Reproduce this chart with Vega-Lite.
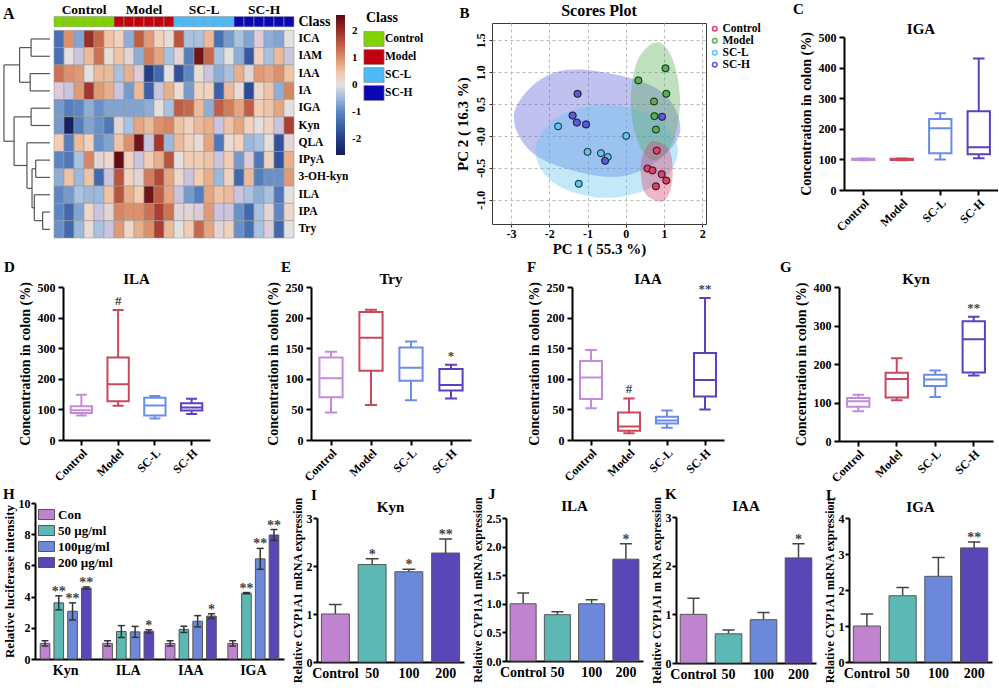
{
  "$schema": "https://vega.github.io/schema/vega-lite/v6.json",
  "background": "white",
  "padding": {"left": 2, "top": 1, "right": 0, "bottom": 0},
  "config": {
    "font": "Liberation Serif",
    "view": {"stroke": null},
    "axis": {"labelFont": "Liberation Serif", "labelFontWeight": "bold", "labelFontSize": 12, "labelColor": "black", "titleFont": "Liberation Serif", "titleFontWeight": "bold", "titleFontSize": 14, "titleColor": "black", "domainColor": "black", "domainWidth": 2, "tickColor": "black", "tickWidth": 2, "tickSize": 5, "grid": false, "labelPadding": 3, "titlePadding": 5},
    "title": {"font": "Liberation Serif", "fontWeight": "bold", "fontSize": 15, "color": "black", "offset": 4},
    "legend": {"labelFont": "Liberation Serif", "labelFontWeight": "bold", "labelColor": "black", "titleFont": "Liberation Serif", "titleFontWeight": "bold", "titleColor": "black"}
  },
  "datasets": {
    "heat": [
      {"r": "ICA", "c01": -1.3, "c02": 1.0, "c03": -0.7, "c04": 2.0, "c05": 1.4, "c06": 0.5, "c07": 0.3, "c08": -0.6, "c09": 1.5, "c10": 0.9, "c11": 0.3, "c12": 0.1, "c13": 1.6, "c14": -0.4, "c15": -0.4, "c16": 0.6, "c17": -1.3, "c18": -0.8, "c19": -0.4, "c20": -0.7, "c21": -0.2, "c22": -0.6, "c23": -0.7, "c24": 0.0},
      {"r": "IAM", "c01": -1.3, "c02": 0.0, "c03": -0.3, "c04": 0.6, "c05": 1.3, "c06": 0.1, "c07": 0.5, "c08": -0.1, "c09": -0.6, "c10": 1.2, "c11": 0.8, "c12": -0.4, "c13": -0.1, "c14": -1.1, "c15": 2.4, "c16": 1.4, "c17": -0.4, "c18": 0.0, "c19": -0.6, "c20": -1.6, "c21": 0.3, "c22": -0.4, "c23": 0.6, "c24": -0.3},
      {"r": "IAA", "c01": 1.3, "c02": 1.0, "c03": 0.9, "c04": 0.0, "c05": 0.6, "c06": 0.6, "c07": -0.4, "c08": 0.7, "c09": -0.2, "c10": -2.0, "c11": -1.4, "c12": 0.0, "c13": -1.7, "c14": -1.0, "c15": 0.1, "c16": -0.3, "c17": -0.6, "c18": -0.4, "c19": 0.7, "c20": -0.1, "c21": 0.9, "c22": 0.8, "c23": 1.0, "c24": 0.5},
      {"r": "IA", "c01": -0.2, "c02": -0.3, "c03": 0.9, "c04": 1.9, "c05": 0.9, "c06": 0.7, "c07": -0.3, "c08": -0.8, "c09": 0.6, "c10": -1.5, "c11": -0.3, "c12": 0.7, "c13": 0.1, "c14": -0.8, "c15": 0.3, "c16": 0.3, "c17": -1.5, "c18": 0.6, "c19": 0.1, "c20": -1.8, "c21": 0.2, "c22": 0.5, "c23": -0.6, "c24": 1.1},
      {"r": "IGA", "c01": -0.8, "c02": -1.1, "c03": -1.0, "c04": -0.6, "c05": -0.9, "c06": -0.7, "c07": -0.7, "c08": -0.7, "c09": -0.7, "c10": -0.6, "c11": 0.05, "c12": -0.4, "c13": 1.5, "c14": 1.4, "c15": 0.6, "c16": -0.6, "c17": 1.5, "c18": 1.2, "c19": 0.8, "c20": 1.5, "c21": 0.4, "c22": 0.5, "c23": 0.8, "c24": 0.0},
      {"r": "Kyn", "c01": -0.8, "c02": -2.5, "c03": -1.1, "c04": -0.7, "c05": -0.9, "c06": -1.2, "c07": -0.1, "c08": -0.4, "c09": 0.8, "c10": 0.6, "c11": 1.0, "c12": 1.1, "c13": 0.5, "c14": 0.3, "c15": 0.6, "c16": 0.7, "c17": -0.3, "c18": 0.5, "c19": 0.8, "c20": 0.3, "c21": 0.05, "c22": 0.3, "c23": -0.3, "c24": 1.8},
      {"r": "QLA", "c01": 0.4, "c02": -1.1, "c03": 0.6, "c04": 0.3, "c05": -0.9, "c06": -0.7, "c07": 0.5, "c08": 1.0, "c09": 2.4, "c10": -0.3, "c11": 1.9, "c12": -0.5, "c13": 0.6, "c14": 0.3, "c15": 0.1, "c16": 0.8, "c17": -1.2, "c18": 0.1, "c19": 0.3, "c20": -0.5, "c21": -0.4, "c22": 0.05, "c23": -1.7, "c24": -0.1},
      {"r": "IPyA", "c01": -1.0, "c02": -1.2, "c03": -0.4, "c04": 1.1, "c05": -0.1, "c06": 0.2, "c07": 2.5, "c08": 0.3, "c09": -0.3, "c10": 0.4, "c11": 0.7, "c12": 1.6, "c13": 0.0, "c14": 0.4, "c15": 0.4, "c16": 0.5, "c17": -0.3, "c18": 0.4, "c19": -0.8, "c20": -0.2, "c21": -1.2, "c22": 0.3, "c23": -1.7, "c24": 0.7},
      {"r": "3-OH-kyn", "c01": -0.6, "c02": 0.5, "c03": -0.5, "c04": 0.5, "c05": -1.4, "c06": -0.3, "c07": 1.6, "c08": 0.3, "c09": -0.1, "c10": 1.2, "c11": 1.7, "c12": 0.8, "c13": 0.2, "c14": -0.3, "c15": 0.4, "c16": 0.7, "c17": -0.5, "c18": 0.3, "c19": -1.4, "c20": 0.6, "c21": -1.1, "c22": -0.9, "c23": -0.9, "c24": 0.9},
      {"r": "ILA", "c01": -1.0, "c02": -0.8, "c03": -0.4, "c04": -0.5, "c05": -0.5, "c06": 0.5, "c07": 1.6, "c08": 0.7, "c09": 0.4, "c10": 2.4, "c11": 1.5, "c12": 0.8, "c13": -0.3, "c14": -0.8, "c15": -1.1, "c16": 0.8, "c17": 0.5, "c18": 0.6, "c19": -0.3, "c20": -0.4, "c21": -0.6, "c22": -0.4, "c23": -1.2, "c24": 0.0},
      {"r": "IPA", "c01": -1.0, "c02": -1.4, "c03": -0.7, "c04": 0.2, "c05": -0.3, "c06": -0.1, "c07": 1.1, "c08": 1.0, "c09": 1.0, "c10": 1.3, "c11": 1.8, "c12": 1.3, "c13": -0.1, "c14": -0.1, "c15": -0.2, "c16": 0.9, "c17": -0.3, "c18": -0.3, "c19": -0.9, "c20": -1.4, "c21": -0.4, "c22": -0.1, "c23": -1.0, "c24": 0.2},
      {"r": "Try", "c01": -0.9, "c02": -1.4, "c03": -0.5, "c04": 0.1, "c05": -0.4, "c06": -0.3, "c07": 0.9, "c08": 0.2, "c09": 0.7, "c10": 1.0, "c11": 1.8, "c12": 0.6, "c13": 0.0, "c14": 0.4, "c15": 1.4, "c16": 0.8, "c17": -0.1, "c18": 0.3, "c19": -0.9, "c20": -1.3, "c21": -0.4, "c22": -0.2, "c23": -1.4, "c24": 0.0}
    ],
    "classbar": [
      {"col": "c01", "g": "Control"}, {"col": "c02", "g": "Control"}, {"col": "c03", "g": "Control"}, {"col": "c04", "g": "Control"}, {"col": "c05", "g": "Control"}, {"col": "c06", "g": "Control"},
      {"col": "c07", "g": "Model"}, {"col": "c08", "g": "Model"}, {"col": "c09", "g": "Model"}, {"col": "c10", "g": "Model"}, {"col": "c11", "g": "Model"}, {"col": "c12", "g": "Model"},
      {"col": "c13", "g": "SC-L"}, {"col": "c14", "g": "SC-L"}, {"col": "c15", "g": "SC-L"}, {"col": "c16", "g": "SC-L"}, {"col": "c17", "g": "SC-L"}, {"col": "c18", "g": "SC-L"},
      {"col": "c19", "g": "SC-H"}, {"col": "c20", "g": "SC-H"}, {"col": "c21", "g": "SC-H"}, {"col": "c22", "g": "SC-H"}, {"col": "c23", "g": "SC-H"}, {"col": "c24", "g": "SC-H"}
    ],
    "classlab": [
      {"col": "c03", "g": "Control"}, {"col": "c09", "g": "Model"}, {"col": "c15", "g": "SC-L"}, {"col": "c21", "g": "SC-H"}
    ],
    "dendro": [
      {"h1": 0, "h2": 0.41, "y1": 1, "y2": 1}, {"h1": 0, "h2": 0.41, "y1": 2, "y2": 2}, {"h1": 0.41, "h2": 0.41, "y1": 1, "y2": 2},
      {"h1": 0, "h2": 0.43, "y1": 3, "y2": 3}, {"h1": 0, "h2": 0.43, "y1": 4, "y2": 4}, {"h1": 0.43, "h2": 0.43, "y1": 3, "y2": 4},
      {"h1": 0.41, "h2": 0.66, "y1": 1.5, "y2": 1.5}, {"h1": 0.43, "h2": 0.66, "y1": 3.5, "y2": 3.5}, {"h1": 0.66, "h2": 0.66, "y1": 1.5, "y2": 3.5},
      {"h1": 0, "h2": 0.41, "y1": 5, "y2": 5}, {"h1": 0, "h2": 0.41, "y1": 6, "y2": 6}, {"h1": 0.41, "h2": 0.41, "y1": 5, "y2": 6},
      {"h1": 0, "h2": 0.16, "y1": 11, "y2": 11}, {"h1": 0, "h2": 0.16, "y1": 12, "y2": 12}, {"h1": 0.16, "h2": 0.16, "y1": 11, "y2": 12},
      {"h1": 0, "h2": 0.34, "y1": 10, "y2": 10}, {"h1": 0.16, "h2": 0.34, "y1": 11.5, "y2": 11.5}, {"h1": 0.34, "h2": 0.34, "y1": 10, "y2": 11.5},
      {"h1": 0, "h2": 0.31, "y1": 8, "y2": 8}, {"h1": 0, "h2": 0.31, "y1": 9, "y2": 9}, {"h1": 0.31, "h2": 0.31, "y1": 8, "y2": 9},
      {"h1": 0.31, "h2": 0.39, "y1": 8.5, "y2": 8.5}, {"h1": 0.34, "h2": 0.39, "y1": 10.75, "y2": 10.75}, {"h1": 0.39, "h2": 0.39, "y1": 8.5, "y2": 10.75},
      {"h1": 0, "h2": 0.5, "y1": 7, "y2": 7}, {"h1": 0.39, "h2": 0.5, "y1": 9.63, "y2": 9.63}, {"h1": 0.5, "h2": 0.5, "y1": 7, "y2": 9.63},
      {"h1": 0.41, "h2": 0.78, "y1": 5.5, "y2": 5.5}, {"h1": 0.5, "h2": 0.78, "y1": 8.31, "y2": 8.31}, {"h1": 0.78, "h2": 0.78, "y1": 5.5, "y2": 8.31},
      {"h1": 0.66, "h2": 1.0, "y1": 2.5, "y2": 2.5}, {"h1": 0.78, "h2": 1.0, "y1": 6.91, "y2": 6.91}, {"h1": 1.0, "h2": 1.0, "y1": 2.5, "y2": 6.91}
    ],
    "scores": [
      {"g": "Control", "pc1": 0.81, "pc2": -0.23}, {"g": "Control", "pc1": 0.57, "pc2": -0.51}, {"g": "Control", "pc1": 0.70, "pc2": -0.54},
      {"g": "Control", "pc1": 0.94, "pc2": -0.60}, {"g": "Control", "pc1": 1.06, "pc2": -0.70}, {"g": "Control", "pc1": 0.79, "pc2": -0.79},
      {"g": "Model", "pc1": 0.33, "pc2": 0.87}, {"g": "Model", "pc1": 1.04, "pc2": 1.06}, {"g": "Model", "pc1": 1.06, "pc2": 0.66},
      {"g": "Model", "pc1": 0.74, "pc2": 0.54}, {"g": "Model", "pc1": 0.75, "pc2": 0.31}, {"g": "Model", "pc1": 0.79, "pc2": 0.10},
      {"g": "SC-L", "pc1": -1.77, "pc2": 0.15}, {"g": "SC-L", "pc1": 0.01, "pc2": 0.0}, {"g": "SC-L", "pc1": -1.0, "pc2": -0.25},
      {"g": "SC-L", "pc1": -0.65, "pc2": -0.27}, {"g": "SC-L", "pc1": -0.47, "pc2": -0.33}, {"g": "SC-L", "pc1": -1.23, "pc2": -0.75},
      {"g": "SC-H", "pc1": -1.26, "pc2": 0.66}, {"g": "SC-H", "pc1": -1.39, "pc2": 0.32}, {"g": "SC-H", "pc1": -1.28, "pc2": 0.21},
      {"g": "SC-H", "pc1": -1.04, "pc2": 0.18}, {"g": "SC-H", "pc1": 0.95, "pc2": 0.30}, {"g": "SC-H", "pc1": -0.54, "pc2": -0.39}
    ],
    "ellipses": [
      {"g": "SC-H", "i": 0, "pc1": -1.17, "pc2": 1.04}, {"g": "SC-H", "i": 1, "pc1": 0.79, "pc2": 0.75}, {"g": "SC-H", "i": 2, "pc1": 1.43, "pc2": 0.11}, {"g": "SC-H", "i": 3, "pc1": 0.74, "pc2": -0.43},
      {"g": "SC-H", "i": 4, "pc1": -0.48, "pc2": -0.64}, {"g": "SC-H", "i": 5, "pc1": -2.29, "pc2": -0.33}, {"g": "SC-H", "i": 6, "pc1": -2.93, "pc2": 0.29}, {"g": "SC-H", "i": 7, "pc1": -2.29, "pc2": 0.86},
      {"g": "SC-L", "i": 0, "pc1": -0.57, "pc2": 0.49}, {"g": "SC-L", "i": 1, "pc1": 0.82, "pc2": 0.28}, {"g": "SC-L", "i": 2, "pc1": 1.37, "pc2": -0.24}, {"g": "SC-L", "i": 3, "pc1": 0.82, "pc2": -0.76},
      {"g": "SC-L", "i": 4, "pc1": -0.50, "pc2": -0.97}, {"g": "SC-L", "i": 5, "pc1": -1.83, "pc2": -0.76}, {"g": "SC-L", "i": 6, "pc1": -2.37, "pc2": -0.24}, {"g": "SC-L", "i": 7, "pc1": -1.83, "pc2": 0.28},
      {"g": "Model", "i": 0, "pc1": 0.83, "pc2": 1.47}, {"g": "Model", "i": 1, "pc1": 1.23, "pc2": 1.20}, {"g": "Model", "i": 2, "pc1": 1.42, "pc2": 0.55}, {"g": "Model", "i": 3, "pc1": 1.23, "pc2": -0.10},
      {"g": "Model", "i": 4, "pc1": 0.74, "pc2": -0.38}, {"g": "Model", "i": 5, "pc1": 0.32, "pc2": -0.10}, {"g": "Model", "i": 6, "pc1": 0.13, "pc2": 0.55}, {"g": "Model", "i": 7, "pc1": 0.32, "pc2": 1.20},
      {"g": "Control", "i": 0, "pc1": 0.74, "pc2": -0.08}, {"g": "Control", "i": 1, "pc1": 1.14, "pc2": -0.22}, {"g": "Control", "i": 2, "pc1": 1.23, "pc2": -0.59}, {"g": "Control", "i": 3, "pc1": 1.14, "pc2": -0.90},
      {"g": "Control", "i": 4, "pc1": 0.91, "pc2": -1.03}, {"g": "Control", "i": 5, "pc1": 0.50, "pc2": -0.89}, {"g": "Control", "i": 6, "pc1": 0.39, "pc2": -0.51}, {"g": "Control", "i": 7, "pc1": 0.50, "pc2": -0.22}
    ],
    "boxes": [
      {"p": "C", "g": "Control", "lo": 97, "q1": 98, "med": 100, "q3": 102, "hi": 103, "s": ""},
      {"p": "C", "g": "Model", "lo": 97, "q1": 98, "med": 100, "q3": 102, "hi": 103, "s": ""},
      {"p": "C", "g": "SC-L", "lo": 100, "q1": 120, "med": 202, "q3": 232, "hi": 251, "s": ""},
      {"p": "C", "g": "SC-H", "lo": 104, "q1": 117, "med": 140, "q3": 257, "hi": 430, "s": ""},
      {"p": "D", "g": "Control", "lo": 80, "q1": 88, "med": 97, "q3": 110, "hi": 148, "s": ""},
      {"p": "D", "g": "Model", "lo": 112, "q1": 127, "med": 182, "q3": 270, "hi": 425, "s": "#"},
      {"p": "D", "g": "SC-L", "lo": 70, "q1": 80, "med": 113, "q3": 138, "hi": 144, "s": ""},
      {"p": "D", "g": "SC-H", "lo": 85, "q1": 96, "med": 106, "q3": 120, "hi": 135, "s": ""},
      {"p": "E", "g": "Control", "lo": 45, "q1": 70, "med": 101, "q3": 135, "hi": 144, "s": ""},
      {"p": "E", "g": "Model", "lo": 57, "q1": 113, "med": 167, "q3": 209, "hi": 213, "s": ""},
      {"p": "E", "g": "SC-L", "lo": 65, "q1": 97, "med": 118, "q3": 151, "hi": 161, "s": ""},
      {"p": "E", "g": "SC-H", "lo": 68, "q1": 81, "med": 90, "q3": 116, "hi": 123, "s": "*"},
      {"p": "F", "g": "Control", "lo": 52, "q1": 67, "med": 102, "q3": 129, "hi": 147, "s": ""},
      {"p": "F", "g": "Model", "lo": 11, "q1": 15, "med": 22, "q3": 45, "hi": 68, "s": "#"},
      {"p": "F", "g": "SC-L", "lo": 20, "q1": 27, "med": 32, "q3": 38, "hi": 48, "s": ""},
      {"p": "F", "g": "SC-H", "lo": 50, "q1": 71, "med": 98, "q3": 142, "hi": 232, "s": "**"},
      {"p": "G", "g": "Control", "lo": 77, "q1": 89, "med": 103, "q3": 112, "hi": 120, "s": ""},
      {"p": "G", "g": "Model", "lo": 106, "q1": 113, "med": 161, "q3": 177, "hi": 215, "s": ""},
      {"p": "G", "g": "SC-L", "lo": 114, "q1": 143, "med": 160, "q3": 172, "hi": 183, "s": ""},
      {"p": "G", "g": "SC-H", "lo": 170, "q1": 178, "med": 264, "q3": 311, "hi": 323, "s": "**"}
    ],
    "luc": [
      {"t": "Kyn", "d": "Con", "v": 1.0, "lo": 0.83, "hi": 1.17, "s": ""},
      {"t": "Kyn", "d": "50 µg/ml", "v": 3.6, "lo": 3.15, "hi": 4.05, "s": "**"},
      {"t": "Kyn", "d": "100µg/ml", "v": 3.06, "lo": 2.5, "hi": 3.6, "s": "**"},
      {"t": "Kyn", "d": "200 µg/ml", "v": 4.55, "lo": 4.48, "hi": 4.62, "s": "**"},
      {"t": "ILA", "d": "Con", "v": 1.0, "lo": 0.83, "hi": 1.17, "s": ""},
      {"t": "ILA", "d": "50 µg/ml", "v": 1.76, "lo": 1.38, "hi": 2.14, "s": ""},
      {"t": "ILA", "d": "100µg/ml", "v": 1.74, "lo": 1.39, "hi": 2.09, "s": ""},
      {"t": "ILA", "d": "200 µg/ml", "v": 1.77, "lo": 1.67, "hi": 1.87, "s": "*"},
      {"t": "IAA", "d": "Con", "v": 1.0, "lo": 0.83, "hi": 1.17, "s": ""},
      {"t": "IAA", "d": "50 µg/ml", "v": 1.9, "lo": 1.7, "hi": 2.1, "s": ""},
      {"t": "IAA", "d": "100µg/ml", "v": 2.42, "lo": 2.06, "hi": 2.78, "s": ""},
      {"t": "IAA", "d": "200 µg/ml", "v": 2.75, "lo": 2.6, "hi": 2.9, "s": "*"},
      {"t": "IGA", "d": "Con", "v": 1.0, "lo": 0.83, "hi": 1.17, "s": ""},
      {"t": "IGA", "d": "50 µg/ml", "v": 4.22, "lo": 4.18, "hi": 4.26, "s": "**"},
      {"t": "IGA", "d": "100µg/ml", "v": 6.42, "lo": 5.75, "hi": 7.09, "s": "**"},
      {"t": "IGA", "d": "200 µg/ml", "v": 7.95, "lo": 7.6, "hi": 8.3, "s": "**"}
    ],
    "qpcr": [
      {"p": "I", "g": "Control", "v": 1.0, "hi": 1.2, "s": ""},
      {"p": "I", "g": "50", "v": 2.03, "hi": 2.15, "s": "*"},
      {"p": "I", "g": "100", "v": 1.88, "hi": 1.93, "s": "*"},
      {"p": "I", "g": "200", "v": 2.27, "hi": 2.56, "s": "**"},
      {"p": "J", "g": "Control", "v": 1.0, "hi": 1.19, "s": ""},
      {"p": "J", "g": "50", "v": 0.81, "hi": 0.86, "s": ""},
      {"p": "J", "g": "100", "v": 1.0, "hi": 1.07, "s": ""},
      {"p": "J", "g": "200", "v": 1.78, "hi": 2.05, "s": "*"},
      {"p": "K", "g": "Control", "v": 1.0, "hi": 1.33, "s": ""},
      {"p": "K", "g": "50", "v": 0.6, "hi": 0.68, "s": ""},
      {"p": "K", "g": "100", "v": 0.89, "hi": 1.04, "s": ""},
      {"p": "K", "g": "200", "v": 2.16, "hi": 2.45, "s": "*"},
      {"p": "L", "g": "Control", "v": 1.0, "hi": 1.33, "s": ""},
      {"p": "L", "g": "50", "v": 1.84, "hi": 2.07, "s": ""},
      {"p": "L", "g": "100", "v": 2.38, "hi": 2.9, "s": ""},
      {"p": "L", "g": "200", "v": 3.17, "hi": 3.33, "s": "**"}
    ]
  },
  "spacing": 2,
  "resolve": {"scale": {"fill": "independent", "stroke": "independent", "color": "independent"}},
  "vconcat": [
    {
      "spacing": 0,
      "resolve": {"scale": {"fill": "independent", "stroke": "independent", "color": "independent"}},
      "hconcat": [
        {"width": 1, "height": 1, "data": {"values": []}, "mark": "point", "encoding": {}},
        {
          "spacing": 30,
          "resolve": {"scale": {"fill": "independent", "stroke": "independent", "color": "independent"}},
          "hconcat": [
            {
              "spacing": 0,
              "resolve": {"scale": {"fill": "independent", "stroke": "independent", "color": "independent"}},
              "vconcat": [
                {"width": 1, "height": 1, "data": {"values": []}, "mark": "point", "encoding": {}},
                {
                  "spacing": 2,
                  "resolve": {"scale": {"fill": "independent", "stroke": "independent", "color": "independent"}},
                  "hconcat": [
                    {
                      "width": 47, "height": 225,
                      "layer": [
                        {
                          "data": {"name": "dendro"},
                          "mark": {"type": "rule", "stroke": "#555555", "strokeWidth": 1.2},
                          "encoding": {
                            "x": {"field": "h1", "type": "quantitative", "scale": {"domain": [0, 1.02], "reverse": true, "nice": false, "zero": false}, "axis": null},
                            "x2": {"field": "h2"},
                            "y": {"field": "y1", "type": "quantitative", "scale": {"domain": [-0.5, 12.5], "reverse": true, "nice": false, "zero": false}, "axis": null},
                            "y2": {"field": "y2"}
                          }
                        },
                        {
                          "data": {"values": [{}]},
                          "mark": {"type": "text", "text": "A", "fontSize": 16, "fontWeight": "bold", "align": "left", "baseline": "bottom"},
                          "encoding": {
                            "x": {"datum": 1.02, "type": "quantitative"},
                            "y": {"datum": 0, "type": "quantitative"}
                          }
                        }
                      ]
                    },
                    {
                      "width": 240, "height": 225,
                      "resolve": {"scale": {"fill": "independent"}},
                      "layer": [
                        {
                          "data": {"name": "heat"},
                          "transform": [{"fold": ["c01", "c02", "c03", "c04", "c05", "c06", "c07", "c08", "c09", "c10", "c11", "c12", "c13", "c14", "c15", "c16", "c17", "c18", "c19", "c20", "c21", "c22", "c23", "c24"], "as": ["col", "v"]}],
                          "mark": {"type": "rect", "stroke": "#9b9b9b", "strokeWidth": 0.6},
                          "encoding": {
                            "x": {"field": "col", "type": "ordinal", "sort": "ascending", "axis": null},
                            "y": {"field": "r", "type": "ordinal", "title": null,
                                  "scale": {"domain": ["Class", "ICA", "IAM", "IAA", "IA", "IGA", "Kyn", "QLA", "IPyA", "3-OH-kyn", "ILA", "IPA", "Try"]},
                                  "axis": {"orient": "right", "domain": false, "ticks": false, "labelPadding": 4, "labelFontSize": {"condition": {"test": "datum.value === 'Class'", "value": 14}, "value": 11.5}}},
                            "fill": {"field": "v", "type": "quantitative",
                                     "scale": {"domain": [-2.6, -1.8, -1, -0.4, 0, 0.4, 1, 1.8, 2.6], "range": ["#101d5a", "#2b4b97", "#5d86c2", "#a9c2e0", "#e3e1e0", "#f3cdb3", "#dd906b", "#ad3e32", "#5c0611"]},
                                     "legend": {"title": null, "orient": "none", "legendX": 282, "legendY": 2, "gradientLength": 140, "gradientThickness": 9, "values": [2, 1, 0, -1, -2], "labelExpr": "datum.value < 0 ? '-' + format(-datum.value, 'd') : format(datum.value, 'd')", "labelFontSize": 11, "labelOffset": 7, "gradientStrokeWidth": 0}}
                          }
                        },
                        {
                          "data": {"name": "classbar"},
                          "mark": {"type": "rect", "height": {"band": 0.6}, "stroke": "#9b9b9b", "strokeWidth": 0.6},
                          "encoding": {
                            "x": {"field": "col", "type": "ordinal", "axis": null},
                            "y": {"datum": "Class", "type": "ordinal"},
                            "fill": {"field": "g", "type": "nominal",
                                     "scale": {"domain": ["Control", "Model", "SC-L", "SC-H"], "range": ["#7fd300", "#c0000c", "#4dbaf5", "#0a06b4"]},
                                     "legend": {"title": "Class", "orient": "none", "legendX": 312, "legendY": -2, "titleFontSize": 14, "titlePadding": 6, "labelFontSize": 11.5, "symbolType": "M -1.35 -1 L 1.35 -1 L 1.35 1 L -1.35 1 Z", "symbolSize": 225, "symbolStrokeColor": "#888888", "symbolStrokeWidth": 0.6, "rowPadding": 0, "labelOffset": 3}}
                          }
                        },
                        {
                          "data": {"name": "classlab"},
                          "mark": {"type": "text", "dx": 5, "dy": -12, "fontSize": 13.5, "fontWeight": "bold"},
                          "encoding": {
                            "x": {"field": "col", "type": "ordinal", "axis": null},
                            "y": {"datum": "Class", "type": "ordinal"},
                            "text": {"field": "g"}
                          }
                        }
                      ]
                    }
                  ]
                }
              ]
            },
            {
              "spacing": 0,
              "resolve": {"scale": {"fill": "independent", "stroke": "independent", "color": "independent"}},
              "vconcat": [
                {"width": 1, "height": 1, "data": {"values": []}, "mark": "point", "encoding": {}},
                {
                  "title": {"text": "B", "anchor": "start", "frame": "bounds", "fontSize": 15, "offset": -18, "dx": 5},
                  "resolve": {"scale": {"fill": "independent", "stroke": "independent", "color": "independent"}},
                  "vconcat": [
                    {
                      "width": 214, "height": 201,
                      "title": {"text": "Scores Plot", "fontSize": 16, "offset": 4},
                      "view": {"stroke": "#3a3a3a", "strokeWidth": 1},
                      "encoding": {
                        "x": {"field": "pc1", "type": "quantitative", "title": "PC 1 ( 55.3 %)", "scale": {"domain": [-3.5, 2.1], "nice": false, "zero": false},
                              "axis": {"values": [-3, -2, -1, 0, 1, 2], "labelExpr": "datum.value < 0 ? '-' + format(-datum.value, 'd') : format(datum.value, 'd')", "grid": true, "gridDash": [3, 3], "gridColor": "#b8b8b8", "gridWidth": 1, "domain": false, "tickSize": 3, "tickWidth": 1, "tickColor": "#333333", "labelPadding": 1, "titleFontSize": 15, "titlePadding": 2}},
                        "y": {"field": "pc2", "type": "quantitative", "title": "PC 2 ( 16.3 %)", "scale": {"domain": [-1.38, 1.77], "nice": false, "zero": false},
                              "axis": {"values": [-1, -0.5, 0, 0.5, 1, 1.5], "labelExpr": "datum.value === 0 ? '-0.0' : (datum.value < 0 ? '-' + format(-datum.value, '.1f') : format(datum.value, '.1f'))", "labelAngle": -90, "grid": true, "gridDash": [3, 3], "gridColor": "#b8b8b8", "gridWidth": 1, "domain": false, "tickSize": 3, "tickWidth": 1, "tickColor": "#333333", "labelPadding": 2, "titleFontSize": 15, "titlePadding": 4}}
                      },
                      "layer": [
                        {
                          "data": {"name": "ellipses"},
                          "mark": {"type": "line", "interpolate": "cardinal-closed", "strokeOpacity": 0, "fillOpacity": 0.38},
                          "encoding": {
                            "fill": {"field": "g", "type": "nominal", "scale": {"domain": ["SC-H", "SC-L", "Model", "Control"], "range": ["#5c5cd8", "#62c4f0", "#5aae5a", "#d8436d"]}, "legend": null},
                            "order": {"field": "i", "type": "quantitative"}
                          }
                        },
                        {
                          "data": {"name": "scores"},
                          "mark": {"type": "point", "filled": false, "size": 45, "strokeWidth": 1.5, "opacity": 1},
                          "encoding": {
                            "stroke": {"field": "g", "type": "nominal", "scale": {"domain": ["Control", "Model", "SC-L", "SC-H"], "range": ["#d8436d", "#5aae5a", "#62c4f0", "#5c5cd8"]},
                                       "legend": {"title": null, "orient": "right", "offset": 3, "padding": 0, "labelFontSize": 11.5, "symbolSize": 20, "symbolStrokeWidth": 1.6, "rowPadding": -2, "labelOffset": 2}}
                          }
                        },
                        {
                          "data": {"name": "scores"},
                          "mark": {"type": "point", "filled": true, "size": 48, "stroke": "#222222", "strokeWidth": 1, "opacity": 1},
                          "encoding": {
                            "fill": {"field": "g", "type": "nominal", "scale": {"domain": ["SC-H", "SC-L", "Model", "Control"], "range": ["#5c5cd8", "#62c4f0", "#5aae5a", "#d8436d"]}, "legend": null}
                          }
                        }
                      ]
                    }
                  ]
                }
              ]
            },
            {
              "spacing": 0,
              "resolve": {"scale": {"fill": "independent", "stroke": "independent", "color": "independent"}},
              "vconcat": [
                {"width": 1, "height": 1, "data": {"values": []}, "mark": "point", "encoding": {}},
                {
                  "title": {"text": "C", "anchor": "start", "frame": "bounds", "fontSize": 15, "offset": 5, "dx": -6},
                  "resolve": {"scale": {"fill": "independent", "stroke": "independent", "color": "independent"}},
                  "vconcat": [
                    {
                      "title": {"text": "IGA", "fontSize": 15, "offset": -6},
                      "width": 154, "height": 153,
                      "data": {"name": "boxes"},
                      "transform": [{"filter": "datum.p === 'C'"}],
                      "encoding": {
                        "x": {"field": "g", "type": "nominal", "title": null, "sort": ["Control", "Model", "SC-L", "SC-H"], "axis": {"labelAngle": -45, "labelFontSize": 12, "labelPadding": 2}},
                        "stroke": {"field": "g", "type": "nominal", "scale": {"domain": ["Control", "Model", "SC-L", "SC-H"], "range": ["#c48bdb", "#c8485c", "#6b8de8", "#5b40c0"]}, "legend": null}
                      },
                      "layer": [
                        {"mark": {"type": "rule", "strokeWidth": 2}, "encoding": {"y": {"field": "lo", "type": "quantitative", "title": "Concentration in colon (%)", "scale": {"domain": [0, 500], "nice": false}, "axis": {"values": [0, 100, 200, 300, 400, 500]}}, "y2": {"field": "hi"}}},
                        {"mark": {"type": "bar", "width": {"band": 0.3}, "strokeWidth": 2, "fillOpacity": 0}, "encoding": {"y": {"field": "lo", "type": "quantitative", "title": "Concentration in colon (%)", "scale": {"domain": [0, 500], "nice": false}, "axis": {"values": [0, 100, 200, 300, 400, 500]}}, "y2": {"field": "lo"}}},
                        {"mark": {"type": "bar", "width": {"band": 0.3}, "strokeWidth": 2, "fillOpacity": 0}, "encoding": {"y": {"field": "hi", "type": "quantitative", "title": "Concentration in colon (%)", "scale": {"domain": [0, 500], "nice": false}, "axis": {"values": [0, 100, 200, 300, 400, 500]}}, "y2": {"field": "hi"}}},
                        {"mark": {"type": "bar", "width": {"band": 0.58}, "strokeWidth": 2, "fill": "white"}, "encoding": {"y": {"field": "q1", "type": "quantitative", "title": "Concentration in colon (%)", "scale": {"domain": [0, 500], "nice": false}, "axis": {"values": [0, 100, 200, 300, 400, 500]}}, "y2": {"field": "q3"}}},
                        {"mark": {"type": "bar", "width": {"band": 0.58}, "strokeWidth": 2, "fillOpacity": 0}, "encoding": {"y": {"field": "med", "type": "quantitative", "title": "Concentration in colon (%)", "scale": {"domain": [0, 500], "nice": false}, "axis": {"values": [0, 100, 200, 300, 400, 500]}}, "y2": {"field": "med"}}}
                      ]
                    }
                  ]
                }
              ]
            }
          ]
        }
      ]
    },
    {
      "spacing": 0,
      "resolve": {"scale": {"fill": "independent", "stroke": "independent", "color": "independent"}},
      "hconcat": [
        {"width": 1, "height": 1, "data": {"values": []}, "mark": "point", "encoding": {}},
        {
          "spacing": 55,
          "resolve": {"scale": {"fill": "independent", "stroke": "independent", "color": "independent"}},
          "hconcat": [
            {
              "spacing": 0,
              "resolve": {"scale": {"fill": "independent", "stroke": "independent", "color": "independent"}},
              "vconcat": [
                {"width": 1, "height": 1, "data": {"values": []}, "mark": "point", "encoding": {}},
                {
                  "title": {"text": "D", "anchor": "start", "frame": "bounds", "fontSize": 15, "offset": -3, "dx": -14},
                  "resolve": {"scale": {"fill": "independent", "stroke": "independent", "color": "independent"}},
                  "vconcat": [
                    {
                      "title": {"text": "ILA", "fontSize": 15, "offset": -6},
                      "width": 147, "height": 153,
                      "data": {"name": "boxes"},
                      "transform": [{"filter": "datum.p === 'D'"}],
                      "encoding": {
                        "x": {"field": "g", "type": "nominal", "title": null, "sort": ["Control", "Model", "SC-L", "SC-H"], "axis": {"labelAngle": -45, "labelFontSize": 12, "labelPadding": 2}},
                        "stroke": {"field": "g", "type": "nominal", "scale": {"domain": ["Control", "Model", "SC-L", "SC-H"], "range": ["#c48bdb", "#c8485c", "#6b8de8", "#5b40c0"]}, "legend": null}
                      },
                      "layer": [
                        {"mark": {"type": "rule", "strokeWidth": 2}, "encoding": {"y": {"field": "lo", "type": "quantitative", "title": "Concentration in colon (%)", "scale": {"domain": [0, 500], "nice": false}, "axis": {"values": [0, 100, 200, 300, 400, 500]}}, "y2": {"field": "hi"}}},
                        {"mark": {"type": "bar", "width": {"band": 0.3}, "strokeWidth": 2, "fillOpacity": 0}, "encoding": {"y": {"field": "lo", "type": "quantitative", "title": "Concentration in colon (%)", "scale": {"domain": [0, 500], "nice": false}, "axis": {"values": [0, 100, 200, 300, 400, 500]}}, "y2": {"field": "lo"}}},
                        {"mark": {"type": "bar", "width": {"band": 0.3}, "strokeWidth": 2, "fillOpacity": 0}, "encoding": {"y": {"field": "hi", "type": "quantitative", "title": "Concentration in colon (%)", "scale": {"domain": [0, 500], "nice": false}, "axis": {"values": [0, 100, 200, 300, 400, 500]}}, "y2": {"field": "hi"}}},
                        {"mark": {"type": "bar", "width": {"band": 0.58}, "strokeWidth": 2, "fill": "white"}, "encoding": {"y": {"field": "q1", "type": "quantitative", "title": "Concentration in colon (%)", "scale": {"domain": [0, 500], "nice": false}, "axis": {"values": [0, 100, 200, 300, 400, 500]}}, "y2": {"field": "q3"}}},
                        {"mark": {"type": "bar", "width": {"band": 0.58}, "strokeWidth": 2, "fillOpacity": 0}, "encoding": {"y": {"field": "med", "type": "quantitative", "title": "Concentration in colon (%)", "scale": {"domain": [0, 500], "nice": false}, "axis": {"values": [0, 100, 200, 300, 400, 500]}}, "y2": {"field": "med"}}},
                        {"mark": {"type": "text", "dy": -9, "fontSize": 13, "fontWeight": "bold", "fill": "#444444", "strokeWidth": 0}, "encoding": {"y": {"field": "hi", "type": "quantitative", "title": "Concentration in colon (%)", "scale": {"domain": [0, 500], "nice": false}, "axis": {"values": [0, 100, 200, 300, 400, 500]}}, "text": {"field": "s"}}}
                      ]
                    }
                  ]
                }
              ]
            },
            {
              "spacing": 0,
              "resolve": {"scale": {"fill": "independent", "stroke": "independent", "color": "independent"}},
              "vconcat": [
                {"width": 1, "height": 1, "data": {"values": []}, "mark": "point", "encoding": {}},
                {
                  "title": {"text": "E", "anchor": "start", "frame": "bounds", "fontSize": 15, "offset": -3, "dx": 15},
                  "resolve": {"scale": {"fill": "independent", "stroke": "independent", "color": "independent"}},
                  "vconcat": [
                    {
                      "title": {"text": "Try", "fontSize": 15, "offset": -6},
                      "width": 160, "height": 153,
                      "data": {"name": "boxes"},
                      "transform": [{"filter": "datum.p === 'E'"}],
                      "encoding": {
                        "x": {"field": "g", "type": "nominal", "title": null, "sort": ["Control", "Model", "SC-L", "SC-H"], "axis": {"labelAngle": -45, "labelFontSize": 12, "labelPadding": 2}},
                        "stroke": {"field": "g", "type": "nominal", "scale": {"domain": ["Control", "Model", "SC-L", "SC-H"], "range": ["#c48bdb", "#c8485c", "#6b8de8", "#5b40c0"]}, "legend": null}
                      },
                      "layer": [
                        {"mark": {"type": "rule", "strokeWidth": 2}, "encoding": {"y": {"field": "lo", "type": "quantitative", "title": "Concentration in colon (%)", "scale": {"domain": [0, 250], "nice": false}, "axis": {"values": [0, 50, 100, 150, 200, 250]}}, "y2": {"field": "hi"}}},
                        {"mark": {"type": "bar", "width": {"band": 0.3}, "strokeWidth": 2, "fillOpacity": 0}, "encoding": {"y": {"field": "lo", "type": "quantitative", "title": "Concentration in colon (%)", "scale": {"domain": [0, 250], "nice": false}, "axis": {"values": [0, 50, 100, 150, 200, 250]}}, "y2": {"field": "lo"}}},
                        {"mark": {"type": "bar", "width": {"band": 0.3}, "strokeWidth": 2, "fillOpacity": 0}, "encoding": {"y": {"field": "hi", "type": "quantitative", "title": "Concentration in colon (%)", "scale": {"domain": [0, 250], "nice": false}, "axis": {"values": [0, 50, 100, 150, 200, 250]}}, "y2": {"field": "hi"}}},
                        {"mark": {"type": "bar", "width": {"band": 0.58}, "strokeWidth": 2, "fill": "white"}, "encoding": {"y": {"field": "q1", "type": "quantitative", "title": "Concentration in colon (%)", "scale": {"domain": [0, 250], "nice": false}, "axis": {"values": [0, 50, 100, 150, 200, 250]}}, "y2": {"field": "q3"}}},
                        {"mark": {"type": "bar", "width": {"band": 0.58}, "strokeWidth": 2, "fillOpacity": 0}, "encoding": {"y": {"field": "med", "type": "quantitative", "title": "Concentration in colon (%)", "scale": {"domain": [0, 250], "nice": false}, "axis": {"values": [0, 50, 100, 150, 200, 250]}}, "y2": {"field": "med"}}},
                        {"mark": {"type": "text", "dy": -9, "fontSize": 13, "fontWeight": "bold", "fill": "#444444", "strokeWidth": 0}, "encoding": {"y": {"field": "hi", "type": "quantitative", "title": "Concentration in colon (%)", "scale": {"domain": [0, 250], "nice": false}, "axis": {"values": [0, 50, 100, 150, 200, 250]}}, "text": {"field": "s"}}}
                      ]
                    }
                  ]
                }
              ]
            },
            {
              "spacing": 0,
              "resolve": {"scale": {"fill": "independent", "stroke": "independent", "color": "independent"}},
              "vconcat": [
                {"width": 1, "height": 1, "data": {"values": []}, "mark": "point", "encoding": {}},
                {
                  "title": {"text": "F", "anchor": "start", "frame": "bounds", "fontSize": 15, "offset": -3},
                  "resolve": {"scale": {"fill": "independent", "stroke": "independent", "color": "independent"}},
                  "vconcat": [
                    {
                      "title": {"text": "IAA", "fontSize": 15, "offset": -6},
                      "width": 152, "height": 153,
                      "data": {"name": "boxes"},
                      "transform": [{"filter": "datum.p === 'F'"}],
                      "encoding": {
                        "x": {"field": "g", "type": "nominal", "title": null, "sort": ["Control", "Model", "SC-L", "SC-H"], "axis": {"labelAngle": -45, "labelFontSize": 12, "labelPadding": 2}},
                        "stroke": {"field": "g", "type": "nominal", "scale": {"domain": ["Control", "Model", "SC-L", "SC-H"], "range": ["#c48bdb", "#c8485c", "#6b8de8", "#5b40c0"]}, "legend": null}
                      },
                      "layer": [
                        {"mark": {"type": "rule", "strokeWidth": 2}, "encoding": {"y": {"field": "lo", "type": "quantitative", "title": "Concentration in colon (%)", "scale": {"domain": [0, 250], "nice": false}, "axis": {"values": [0, 50, 100, 150, 200, 250]}}, "y2": {"field": "hi"}}},
                        {"mark": {"type": "bar", "width": {"band": 0.3}, "strokeWidth": 2, "fillOpacity": 0}, "encoding": {"y": {"field": "lo", "type": "quantitative", "title": "Concentration in colon (%)", "scale": {"domain": [0, 250], "nice": false}, "axis": {"values": [0, 50, 100, 150, 200, 250]}}, "y2": {"field": "lo"}}},
                        {"mark": {"type": "bar", "width": {"band": 0.3}, "strokeWidth": 2, "fillOpacity": 0}, "encoding": {"y": {"field": "hi", "type": "quantitative", "title": "Concentration in colon (%)", "scale": {"domain": [0, 250], "nice": false}, "axis": {"values": [0, 50, 100, 150, 200, 250]}}, "y2": {"field": "hi"}}},
                        {"mark": {"type": "bar", "width": {"band": 0.58}, "strokeWidth": 2, "fill": "white"}, "encoding": {"y": {"field": "q1", "type": "quantitative", "title": "Concentration in colon (%)", "scale": {"domain": [0, 250], "nice": false}, "axis": {"values": [0, 50, 100, 150, 200, 250]}}, "y2": {"field": "q3"}}},
                        {"mark": {"type": "bar", "width": {"band": 0.58}, "strokeWidth": 2, "fillOpacity": 0}, "encoding": {"y": {"field": "med", "type": "quantitative", "title": "Concentration in colon (%)", "scale": {"domain": [0, 250], "nice": false}, "axis": {"values": [0, 50, 100, 150, 200, 250]}}, "y2": {"field": "med"}}},
                        {"mark": {"type": "text", "dy": -9, "fontSize": 13, "fontWeight": "bold", "fill": "#444444", "strokeWidth": 0}, "encoding": {"y": {"field": "hi", "type": "quantitative", "title": "Concentration in colon (%)", "scale": {"domain": [0, 250], "nice": false}, "axis": {"values": [0, 50, 100, 150, 200, 250]}}, "text": {"field": "s"}}}
                      ]
                    }
                  ]
                }
              ]
            },
            {
              "spacing": 0,
              "resolve": {"scale": {"fill": "independent", "stroke": "independent", "color": "independent"}},
              "vconcat": [
                {"width": 1, "height": 1, "data": {"values": []}, "mark": "point", "encoding": {}},
                {
                  "title": {"text": "G", "anchor": "start", "frame": "bounds", "fontSize": 15, "offset": -3, "dx": -14},
                  "resolve": {"scale": {"fill": "independent", "stroke": "independent", "color": "independent"}},
                  "vconcat": [
                    {
                      "title": {"text": "Kyn", "fontSize": 15, "offset": -6},
                      "width": 154, "height": 154,
                      "data": {"name": "boxes"},
                      "transform": [{"filter": "datum.p === 'G'"}],
                      "encoding": {
                        "x": {"field": "g", "type": "nominal", "title": null, "sort": ["Control", "Model", "SC-L", "SC-H"], "axis": {"labelAngle": -45, "labelFontSize": 12, "labelPadding": 2}},
                        "stroke": {"field": "g", "type": "nominal", "scale": {"domain": ["Control", "Model", "SC-L", "SC-H"], "range": ["#c48bdb", "#c8485c", "#6b8de8", "#5b40c0"]}, "legend": null}
                      },
                      "layer": [
                        {"mark": {"type": "rule", "strokeWidth": 2}, "encoding": {"y": {"field": "lo", "type": "quantitative", "title": "Concentration in colon (%)", "scale": {"domain": [0, 400], "nice": false}, "axis": {"values": [0, 100, 200, 300, 400]}}, "y2": {"field": "hi"}}},
                        {"mark": {"type": "bar", "width": {"band": 0.3}, "strokeWidth": 2, "fillOpacity": 0}, "encoding": {"y": {"field": "lo", "type": "quantitative", "title": "Concentration in colon (%)", "scale": {"domain": [0, 400], "nice": false}, "axis": {"values": [0, 100, 200, 300, 400]}}, "y2": {"field": "lo"}}},
                        {"mark": {"type": "bar", "width": {"band": 0.3}, "strokeWidth": 2, "fillOpacity": 0}, "encoding": {"y": {"field": "hi", "type": "quantitative", "title": "Concentration in colon (%)", "scale": {"domain": [0, 400], "nice": false}, "axis": {"values": [0, 100, 200, 300, 400]}}, "y2": {"field": "hi"}}},
                        {"mark": {"type": "bar", "width": {"band": 0.58}, "strokeWidth": 2, "fill": "white"}, "encoding": {"y": {"field": "q1", "type": "quantitative", "title": "Concentration in colon (%)", "scale": {"domain": [0, 400], "nice": false}, "axis": {"values": [0, 100, 200, 300, 400]}}, "y2": {"field": "q3"}}},
                        {"mark": {"type": "bar", "width": {"band": 0.58}, "strokeWidth": 2, "fillOpacity": 0}, "encoding": {"y": {"field": "med", "type": "quantitative", "title": "Concentration in colon (%)", "scale": {"domain": [0, 400], "nice": false}, "axis": {"values": [0, 100, 200, 300, 400]}}, "y2": {"field": "med"}}},
                        {"mark": {"type": "text", "dy": -9, "fontSize": 13, "fontWeight": "bold", "fill": "#444444", "strokeWidth": 0}, "encoding": {"y": {"field": "hi", "type": "quantitative", "title": "Concentration in colon (%)", "scale": {"domain": [0, 400], "nice": false}, "axis": {"values": [0, 100, 200, 300, 400]}}, "text": {"field": "s"}}}
                      ]
                    }
                  ]
                }
              ]
            }
          ]
        }
      ]
    },
    {
      "spacing": 0,
      "resolve": {"scale": {"fill": "independent", "stroke": "independent", "color": "independent"}},
      "hconcat": [
        {"width": 1, "height": 1, "data": {"values": []}, "mark": "point", "encoding": {}},
        {
          "spacing": 6,
          "resolve": {"scale": {"fill": "independent", "stroke": "independent", "color": "independent"}},
          "hconcat": [
            {
              "spacing": 0,
              "resolve": {"scale": {"fill": "independent", "stroke": "independent", "color": "independent"}},
              "vconcat": [
                {"width": 1, "height": 1, "data": {"values": []}, "mark": "point", "encoding": {}},
                {
                  "title": {"text": "H", "anchor": "start", "frame": "bounds", "fontSize": 15, "offset": -5},
                  "resolve": {"scale": {"fill": "independent", "stroke": "independent", "color": "independent"}},
                  "vconcat": [
                    {
                      "width": 249, "height": 156,
                      "data": {"name": "luc"},
                      "encoding": {
                        "x": {"field": "t", "type": "nominal", "title": null, "sort": ["Kyn", "ILA", "IAA", "IGA"], "scale": {"paddingInner": 0.12, "paddingOuter": 0.05}, "axis": {"labelAngle": 0, "ticks": false, "labelFontSize": 14, "labelPadding": 4}},
                        "xOffset": {"field": "d", "type": "nominal", "sort": ["Con", "50 µg/ml", "100µg/ml", "200 µg/ml"], "scale": {"paddingInner": 0.3, "paddingOuter": 0.15}}
                      },
                      "layer": [
                        {"mark": {"type": "bar", "stroke": "#555555", "strokeWidth": 1},
                         "encoding": {
                           "y": {"field": "v", "type": "quantitative", "title": "Relative luciferase intensity", "scale": {"domain": [0, 10], "nice": false}, "axis": {"values": [0, 2, 4, 6, 8, 10], "tickSize": 4, "labelPadding": 1, "titlePadding": 2, "titleFontSize": 13}},
                           "fill": {"field": "d", "type": "nominal", "scale": {"domain": ["Con", "50 µg/ml", "100µg/ml", "200 µg/ml"], "range": ["#c083cf", "#5bb8b3", "#6b88da", "#5a46b6"]},
                                    "legend": {"title": null, "orient": "top-left", "offset": 5, "padding": 0, "labelFontSize": 13, "symbolType": "M -1.6 -1 L 1.6 -1 L 1.6 1 L -1.6 1 Z", "symbolSize": 100, "symbolStrokeColor": "#555555", "symbolStrokeWidth": 1, "rowPadding": 1, "labelOffset": 5}}
                         }},
                        {"mark": {"type": "rule", "strokeWidth": 1.5, "color": "#333333"}, "encoding": {"y": {"field": "lo", "type": "quantitative", "title": "Relative luciferase intensity", "scale": {"domain": [0, 10], "nice": false}, "axis": {"values": [0, 2, 4, 6, 8, 10], "tickSize": 4, "labelPadding": 1, "titlePadding": 2, "titleFontSize": 13}}, "y2": {"field": "hi"}}},
                        {"mark": {"type": "tick", "orient": "horizontal", "size": 7, "thickness": 1.5, "color": "#333333", "opacity": 1}, "encoding": {"y": {"field": "lo", "type": "quantitative", "title": "Relative luciferase intensity", "scale": {"domain": [0, 10], "nice": false}, "axis": {"values": [0, 2, 4, 6, 8, 10], "tickSize": 4, "labelPadding": 1, "titlePadding": 2, "titleFontSize": 13}}}},
                        {"mark": {"type": "tick", "orient": "horizontal", "size": 7, "thickness": 1.5, "color": "#333333", "opacity": 1}, "encoding": {"y": {"field": "hi", "type": "quantitative", "title": "Relative luciferase intensity", "scale": {"domain": [0, 10], "nice": false}, "axis": {"values": [0, 2, 4, 6, 8, 10], "tickSize": 4, "labelPadding": 1, "titlePadding": 2, "titleFontSize": 13}}}},
                        {"mark": {"type": "text", "baseline": "bottom", "dy": 3, "fontSize": 14, "fontWeight": "bold", "color": "#444444"}, "encoding": {"y": {"field": "hi", "type": "quantitative", "title": "Relative luciferase intensity", "scale": {"domain": [0, 10], "nice": false}, "axis": {"values": [0, 2, 4, 6, 8, 10], "tickSize": 4, "labelPadding": 1, "titlePadding": 2, "titleFontSize": 13}}, "text": {"field": "s"}}}
                      ]
                    }
                  ]
                }
              ]
            },
            {
              "spacing": 0,
              "resolve": {"scale": {"fill": "independent", "stroke": "independent", "color": "independent"}},
              "vconcat": [
                {"width": 1, "height": 1, "data": {"values": []}, "mark": "point", "encoding": {}},
                {
                  "title": {"text": "I", "anchor": "start", "frame": "bounds", "fontSize": 15, "offset": -6, "dx": 20},
                  "resolve": {"scale": {"fill": "independent", "stroke": "independent", "color": "independent"}},
                  "vconcat": [
                    {
                      "title": {"text": "Kyn", "fontSize": 15, "offset": -18},
                      "width": 147, "height": 144,
                      "data": {"name": "qpcr"},
                      "transform": [{"filter": "datum.p === 'I'"}],
                      "encoding": {"x": {"field": "g", "type": "nominal", "title": null, "sort": ["Control", "50", "100", "200"], "axis": {"labelAngle": 0, "ticks": false, "labelFontSize": 14, "labelPadding": 4}}},
                      "layer": [
                        {"mark": {"type": "rule", "strokeWidth": 1.5, "color": "#444444"}, "encoding": {"y": {"field": "v", "type": "quantitative", "title": "Relative CYP1A1 mRNA expression", "scale": {"domain": [0, 3], "nice": false}, "axis": {"values": [0, 1, 2, 3], "titleFontSize": 12, "tickSize": 4, "labelPadding": 1, "titlePadding": 2}}, "y2": {"field": "hi"}}},
                        {"mark": {"type": "bar", "width": {"band": 0.35}, "stroke": "#444444", "strokeWidth": 1.5, "fillOpacity": 0}, "encoding": {"y": {"field": "hi", "type": "quantitative", "title": "Relative CYP1A1 mRNA expression", "scale": {"domain": [0, 3], "nice": false}, "axis": {"values": [0, 1, 2, 3], "titleFontSize": 12, "tickSize": 4, "labelPadding": 1, "titlePadding": 2}}, "y2": {"field": "hi"}}},
                        {"mark": {"type": "bar", "width": {"band": 0.76}, "stroke": "#555555", "strokeWidth": 1}, "encoding": {"y": {"field": "v", "type": "quantitative", "title": "Relative CYP1A1 mRNA expression", "scale": {"domain": [0, 3], "nice": false}, "axis": {"values": [0, 1, 2, 3], "titleFontSize": 12, "tickSize": 4, "labelPadding": 1, "titlePadding": 2}}, "fill": {"field": "g", "type": "nominal", "scale": {"domain": ["Control", "50", "100", "200"], "range": ["#c083cf", "#5bb8b3", "#6b88da", "#5a46b6"]}, "legend": null}}},
                        {"mark": {"type": "text", "baseline": "bottom", "dy": 3, "fontSize": 14, "fontWeight": "bold", "color": "#444444"}, "encoding": {"y": {"field": "hi", "type": "quantitative", "title": "Relative CYP1A1 mRNA expression", "scale": {"domain": [0, 3], "nice": false}, "axis": {"values": [0, 1, 2, 3], "titleFontSize": 12, "tickSize": 4, "labelPadding": 1, "titlePadding": 2}}, "text": {"field": "s"}}}
                      ]
                    }
                  ]
                }
              ]
            },
            {
              "spacing": 0,
              "resolve": {"scale": {"fill": "independent", "stroke": "independent", "color": "independent"}},
              "vconcat": [
                {"width": 1, "height": 1, "data": {"values": []}, "mark": "point", "encoding": {}},
                {
                  "title": {"text": "J", "anchor": "start", "frame": "bounds", "fontSize": 15, "offset": -6, "dx": 17},
                  "resolve": {"scale": {"fill": "independent", "stroke": "independent", "color": "independent"}},
                  "vconcat": [
                    {
                      "title": {"text": "ILA", "fontSize": 15, "offset": -18},
                      "width": 137, "height": 143,
                      "data": {"name": "qpcr"},
                      "transform": [{"filter": "datum.p === 'J'"}],
                      "encoding": {"x": {"field": "g", "type": "nominal", "title": null, "sort": ["Control", "50", "100", "200"], "axis": {"labelAngle": 0, "ticks": false, "labelFontSize": 14, "labelPadding": 4}}},
                      "layer": [
                        {"mark": {"type": "rule", "strokeWidth": 1.5, "color": "#444444"}, "encoding": {"y": {"field": "v", "type": "quantitative", "title": "Relative CYP1A1 mRNA expression", "scale": {"domain": [0, 2.5], "nice": false}, "axis": {"values": [0, 0.5, 1, 1.5, 2, 2.5], "format": ".1f", "titleFontSize": 12, "tickSize": 4, "labelPadding": 1, "titlePadding": 2}}, "y2": {"field": "hi"}}},
                        {"mark": {"type": "bar", "width": {"band": 0.35}, "stroke": "#444444", "strokeWidth": 1.5, "fillOpacity": 0}, "encoding": {"y": {"field": "hi", "type": "quantitative", "title": "Relative CYP1A1 mRNA expression", "scale": {"domain": [0, 2.5], "nice": false}, "axis": {"values": [0, 0.5, 1, 1.5, 2, 2.5], "format": ".1f", "titleFontSize": 12, "tickSize": 4, "labelPadding": 1, "titlePadding": 2}}, "y2": {"field": "hi"}}},
                        {"mark": {"type": "bar", "width": {"band": 0.76}, "stroke": "#555555", "strokeWidth": 1}, "encoding": {"y": {"field": "v", "type": "quantitative", "title": "Relative CYP1A1 mRNA expression", "scale": {"domain": [0, 2.5], "nice": false}, "axis": {"values": [0, 0.5, 1, 1.5, 2, 2.5], "format": ".1f", "titleFontSize": 12, "tickSize": 4, "labelPadding": 1, "titlePadding": 2}}, "fill": {"field": "g", "type": "nominal", "scale": {"domain": ["Control", "50", "100", "200"], "range": ["#c083cf", "#5bb8b3", "#6b88da", "#5a46b6"]}, "legend": null}}},
                        {"mark": {"type": "text", "baseline": "bottom", "dy": 3, "fontSize": 14, "fontWeight": "bold", "color": "#444444"}, "encoding": {"y": {"field": "hi", "type": "quantitative", "title": "Relative CYP1A1 mRNA expression", "scale": {"domain": [0, 2.5], "nice": false}, "axis": {"values": [0, 0.5, 1, 1.5, 2, 2.5], "format": ".1f", "titleFontSize": 12, "tickSize": 4, "labelPadding": 1, "titlePadding": 2}}, "text": {"field": "s"}}}
                      ]
                    }
                  ]
                }
              ]
            },
            {
              "spacing": 0,
              "resolve": {"scale": {"fill": "independent", "stroke": "independent", "color": "independent"}},
              "vconcat": [
                {"width": 1, "height": 1, "data": {"values": []}, "mark": "point", "encoding": {}},
                {
                  "title": {"text": "K", "anchor": "start", "frame": "bounds", "fontSize": 15, "offset": -6, "dx": 15},
                  "resolve": {"scale": {"fill": "independent", "stroke": "independent", "color": "independent"}},
                  "vconcat": [
                    {
                      "title": {"text": "IAA", "fontSize": 15, "offset": -18},
                      "width": 140, "height": 146,
                      "data": {"name": "qpcr"},
                      "transform": [{"filter": "datum.p === 'K'"}],
                      "encoding": {"x": {"field": "g", "type": "nominal", "title": null, "sort": ["Control", "50", "100", "200"], "axis": {"labelAngle": 0, "ticks": false, "labelFontSize": 14, "labelPadding": 4}}},
                      "layer": [
                        {"mark": {"type": "rule", "strokeWidth": 1.5, "color": "#444444"}, "encoding": {"y": {"field": "v", "type": "quantitative", "title": "Relative CYP1AI m RNA expression", "scale": {"domain": [0, 3], "nice": false}, "axis": {"values": [0, 1, 2, 3], "titleFontSize": 12, "tickSize": 4, "labelPadding": 1, "titlePadding": 2}}, "y2": {"field": "hi"}}},
                        {"mark": {"type": "bar", "width": {"band": 0.35}, "stroke": "#444444", "strokeWidth": 1.5, "fillOpacity": 0}, "encoding": {"y": {"field": "hi", "type": "quantitative", "title": "Relative CYP1AI m RNA expression", "scale": {"domain": [0, 3], "nice": false}, "axis": {"values": [0, 1, 2, 3], "titleFontSize": 12, "tickSize": 4, "labelPadding": 1, "titlePadding": 2}}, "y2": {"field": "hi"}}},
                        {"mark": {"type": "bar", "width": {"band": 0.76}, "stroke": "#555555", "strokeWidth": 1}, "encoding": {"y": {"field": "v", "type": "quantitative", "title": "Relative CYP1AI m RNA expression", "scale": {"domain": [0, 3], "nice": false}, "axis": {"values": [0, 1, 2, 3], "titleFontSize": 12, "tickSize": 4, "labelPadding": 1, "titlePadding": 2}}, "fill": {"field": "g", "type": "nominal", "scale": {"domain": ["Control", "50", "100", "200"], "range": ["#c083cf", "#5bb8b3", "#6b88da", "#5a46b6"]}, "legend": null}}},
                        {"mark": {"type": "text", "baseline": "bottom", "dy": 3, "fontSize": 14, "fontWeight": "bold", "color": "#444444"}, "encoding": {"y": {"field": "hi", "type": "quantitative", "title": "Relative CYP1AI m RNA expression", "scale": {"domain": [0, 3], "nice": false}, "axis": {"values": [0, 1, 2, 3], "titleFontSize": 12, "tickSize": 4, "labelPadding": 1, "titlePadding": 2}}, "text": {"field": "s"}}}
                      ]
                    }
                  ]
                }
              ]
            },
            {
              "spacing": 0,
              "resolve": {"scale": {"fill": "independent", "stroke": "independent", "color": "independent"}},
              "vconcat": [
                {"width": 1, "height": 1, "data": {"values": []}, "mark": "point", "encoding": {}},
                {
                  "title": {"text": "L", "anchor": "start", "frame": "bounds", "fontSize": 15, "offset": -6, "dx": 3},
                  "resolve": {"scale": {"fill": "independent", "stroke": "independent", "color": "independent"}},
                  "vconcat": [
                    {
                      "title": {"text": "IGA", "fontSize": 15, "offset": -18},
                      "width": 143, "height": 144,
                      "data": {"name": "qpcr"},
                      "transform": [{"filter": "datum.p === 'L'"}],
                      "encoding": {"x": {"field": "g", "type": "nominal", "title": null, "sort": ["Control", "50", "100", "200"], "axis": {"labelAngle": 0, "ticks": false, "labelFontSize": 14, "labelPadding": 4}}},
                      "layer": [
                        {"mark": {"type": "rule", "strokeWidth": 1.5, "color": "#444444"}, "encoding": {"y": {"field": "v", "type": "quantitative", "title": "Relative CYP1A1 mRNA expression", "scale": {"domain": [0, 4], "nice": false}, "axis": {"values": [0, 1, 2, 3, 4], "titleFontSize": 12, "tickSize": 4, "labelPadding": 1, "titlePadding": 2}}, "y2": {"field": "hi"}}},
                        {"mark": {"type": "bar", "width": {"band": 0.35}, "stroke": "#444444", "strokeWidth": 1.5, "fillOpacity": 0}, "encoding": {"y": {"field": "hi", "type": "quantitative", "title": "Relative CYP1A1 mRNA expression", "scale": {"domain": [0, 4], "nice": false}, "axis": {"values": [0, 1, 2, 3, 4], "titleFontSize": 12, "tickSize": 4, "labelPadding": 1, "titlePadding": 2}}, "y2": {"field": "hi"}}},
                        {"mark": {"type": "bar", "width": {"band": 0.76}, "stroke": "#555555", "strokeWidth": 1}, "encoding": {"y": {"field": "v", "type": "quantitative", "title": "Relative CYP1A1 mRNA expression", "scale": {"domain": [0, 4], "nice": false}, "axis": {"values": [0, 1, 2, 3, 4], "titleFontSize": 12, "tickSize": 4, "labelPadding": 1, "titlePadding": 2}}, "fill": {"field": "g", "type": "nominal", "scale": {"domain": ["Control", "50", "100", "200"], "range": ["#c083cf", "#5bb8b3", "#6b88da", "#5a46b6"]}, "legend": null}}},
                        {"mark": {"type": "text", "baseline": "bottom", "dy": 3, "fontSize": 14, "fontWeight": "bold", "color": "#444444"}, "encoding": {"y": {"field": "hi", "type": "quantitative", "title": "Relative CYP1A1 mRNA expression", "scale": {"domain": [0, 4], "nice": false}, "axis": {"values": [0, 1, 2, 3, 4], "titleFontSize": 12, "tickSize": 4, "labelPadding": 1, "titlePadding": 2}}, "text": {"field": "s"}}}
                      ]
                    }
                  ]
                }
              ]
            }
          ]
        }
      ]
    }
  ]
}
